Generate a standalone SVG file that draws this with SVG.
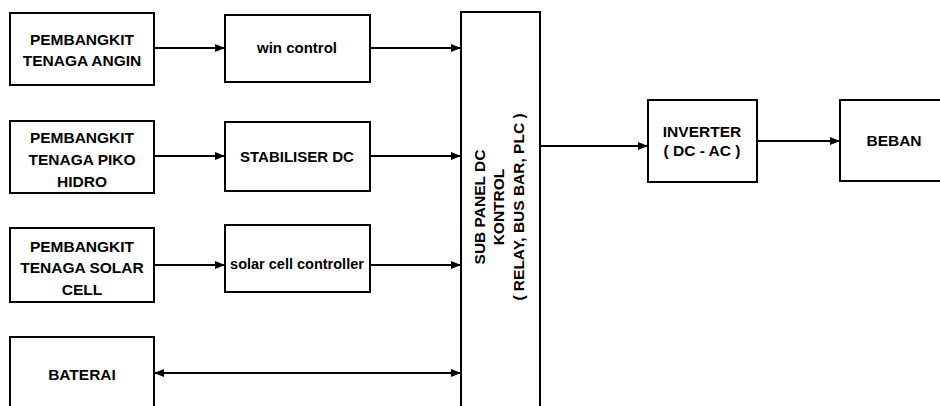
<svg xmlns="http://www.w3.org/2000/svg" width="940" height="406" viewBox="0 0 940 406">
<style>
.box{fill:#fff;stroke:#000;stroke-width:2}
.t{font-family:"Liberation Sans",Arial,sans-serif;font-weight:bold;font-size:15.5px;fill:#000;text-anchor:middle}
.c{fill:none;stroke:#000;stroke-width:2}
</style>
<defs>
<marker id="ah" viewBox="0 0 10 8" refX="10" refY="4" markerWidth="10" markerHeight="8" markerUnits="userSpaceOnUse" orient="auto-start-reverse">
<path d="M0,0 L10,4 L0,8 Z" fill="#000"/>
</marker>
</defs>
<rect width="940" height="406" fill="#fff"/>
<g id="angin"><rect class="box" x="10" y="13" width="144" height="72"/>
<text class="t"><tspan x="82" y="45">PEMBANGKIT</tspan><tspan x="82" y="66">TENAGA ANGIN</tspan></text></g>
<g id="wincontrol"><rect class="box" x="225" y="15" width="145" height="67"/>
<text class="t" x="297" y="53" style="font-size:15px">win control</text></g>
<g id="piko"><rect class="box" x="10" y="121" width="144" height="72"/>
<text class="t"><tspan x="82" y="143">PEMBANGKIT</tspan><tspan x="82" y="165">TENAGA PIKO</tspan><tspan x="82" y="187">HIDRO</tspan></text></g>
<g id="stabiliser"><rect class="box" x="225" y="122" width="145" height="69"/>
<text class="t" x="297" y="162" style="font-size:15px">STABILISER DC</text></g>
<g id="solar"><rect class="box" x="10" y="228" width="144" height="74"/>
<text class="t"><tspan x="82" y="252">PEMBANGKIT</tspan><tspan x="82" y="273">TENAGA SOLAR</tspan><tspan x="82" y="295">CELL</tspan></text></g>
<g id="solarctrl"><rect class="box" x="225" y="225" width="145" height="67"/>
<text class="t" x="297" y="269" style="font-size:14.5px">solar cell controller</text></g>
<g id="baterai"><rect class="box" x="10" y="337" width="144" height="80"/>
<text class="t" x="82" y="380">BATERAI</text></g>
<g id="subpanel"><rect class="box" x="461" y="12" width="79" height="410"/>
<text class="t" transform="rotate(-90 500 207)"><tspan x="500" y="192">SUB PANEL DC</tspan><tspan x="500" y="211">KONTROL</tspan><tspan x="500" y="231">( RELAY, BUS BAR, PLC )</tspan></text></g>
<g id="inverter"><rect class="box" x="648" y="100" width="109" height="82"/>
<text class="t"><tspan x="702" y="137">INVERTER</tspan><tspan x="702" y="156">( DC - AC )</tspan></text></g>
<g id="beban"><rect class="box" x="840" y="100" width="110" height="81"/>
<text class="t" x="894" y="146">BEBAN</text></g>
<g id="connectors">
<line class="c" x1="154" y1="48" x2="225" y2="48" marker-end="url(#ah)"/>
<line class="c" x1="370" y1="48" x2="461" y2="48" marker-end="url(#ah)"/>
<line class="c" x1="154" y1="156" x2="225" y2="156" marker-end="url(#ah)"/>
<line class="c" x1="370" y1="156" x2="461" y2="156" marker-end="url(#ah)"/>
<line class="c" x1="154" y1="265" x2="225" y2="265" marker-end="url(#ah)"/>
<line class="c" x1="370" y1="265" x2="461" y2="265" marker-end="url(#ah)"/>
<line class="c" x1="154" y1="373" x2="461" y2="373" marker-start="url(#ah)" marker-end="url(#ah)"/>
<line class="c" x1="540" y1="146" x2="648" y2="146" marker-end="url(#ah)"/>
<line class="c" x1="757" y1="141" x2="840" y2="141" marker-end="url(#ah)"/>
</g>
</svg>
